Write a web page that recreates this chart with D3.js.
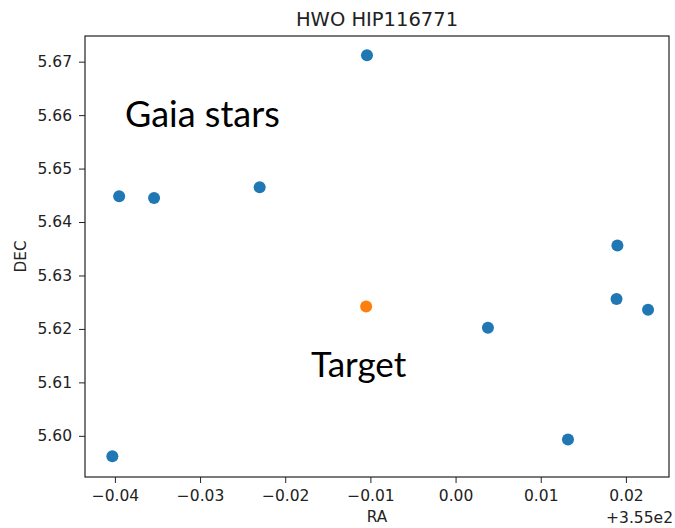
<!DOCTYPE html>
<html>
<head>
<meta charset="utf-8">
<script src="https://cdn.jsdelivr.net/npm/d3@7"></script>
<style>
  body { margin: 0; background: #fff; }
  text { font-family: "DejaVu Sans", sans-serif; fill: #222; }
</style>
</head>
<body>
<div id="chart"></div>
<script>
// RA offsets from 355 deg, DEC in deg
const gaiaRa  = [-0.0395, -0.0354, -0.0230, -0.0104, 0.0190, 0.0189, 0.0226, 0.0038, 0.0132, -0.0403];
const gaiaDec = [5.6448, 5.6445, 5.6465, 5.6712, 5.6356, 5.6256, 5.6236, 5.6202, 5.5993, 5.5962];
const targetRa  = [-0.0105];
const targetDec = [5.6242];

const xTicks = [-0.04, -0.03, -0.02, -0.01, 0.00, 0.01, 0.02];
const yTicks = [5.60, 5.61, 5.62, 5.63, 5.64, 5.65, 5.66, 5.67];

const width = 675, height = 528;
const margin = {top: 36, right: 6, bottom: 51, left: 85};

let svg = d3.select("#chart").append("svg")
    .attr("width", width)
    .attr("height", height);

let x = d3.scaleLinear()
    .domain([-0.04351, 0.02506])
    .range([margin.left, width - margin.right]);

let y = d3.scaleLinear()
    .domain([5.5923, 5.6748])
    .range([height - margin.bottom, margin.top]);

// axes
let xAxis = svg.append("g")
    .attr("transform", `translate(0,${height - margin.bottom})`)
    .call(d3.axisBottom(x).tickValues(xTicks).tickSize(6).tickPadding(7)
        .tickFormat(d => d3.format(".2f")(d).replace("-", "\u2212")));

let yAxis = svg.append("g")
    .attr("transform", `translate(${margin.left},0)`)
    .call(d3.axisLeft(y).tickValues(yTicks).tickSize(6).tickPadding(7)
        .tickFormat(d3.format(".2f")));

[xAxis, yAxis].forEach(a => {
    a.select(".domain").remove();
    a.selectAll("line").attr("stroke", "#222").attr("stroke-width", 1);
    a.selectAll("text").style("font-size", "15.5px").attr("fill", "#222");
});

// frame
svg.append("rect")
    .attr("x", margin.left)
    .attr("y", margin.top)
    .attr("width", width - margin.left - margin.right)
    .attr("height", height - margin.top - margin.bottom)
    .attr("fill", "none")
    .attr("stroke", "#222")
    .attr("stroke-width", 1.2);

// points
let gaia = d3.zip(gaiaRa, gaiaDec);
svg.append("g").selectAll("circle")
    .data(gaia)
    .enter().append("circle")
    .attr("cx", d => x(d[0]))
    .attr("cy", d => y(d[1]))
    .attr("r", 6)
    .attr("fill", "#1f77b4");

svg.append("g").selectAll("circle")
    .data(d3.zip(targetRa, targetDec))
    .enter().append("circle")
    .attr("cx", d => x(d[0]))
    .attr("cy", d => y(d[1]))
    .attr("r", 6)
    .attr("fill", "#ff7f0e");

// titles and labels
svg.append("text")
    .attr("x", (margin.left + width - margin.right) / 2)
    .attr("y", 25.5)
    .attr("text-anchor", "middle")
    .style("font-size", "19.5px")
    .text("HWO HIP116771");

svg.append("text")
    .attr("x", (margin.left + width - margin.right) / 2)
    .attr("y", 522)
    .attr("text-anchor", "middle")
    .style("font-size", "15.3px")
    .text("RA");

svg.append("text")
    .attr("transform", `translate(26,${(margin.top + height - margin.bottom) / 2}) rotate(-90)`)
    .attr("text-anchor", "middle")
    .style("font-size", "15.3px")
    .text("DEC");

svg.append("text")
    .attr("x", 673)
    .attr("y", 523)
    .attr("text-anchor", "end")
    .style("font-size", "15.5px")
    .text("+3.55e2");

// annotations
svg.append("text")
    .attr("x", 125)
    .attr("y", 127)
    .style("font-family", "Lato, sans-serif")
    .style("font-size", "36px")
    .style("fill", "#000")
    .text("Gaia stars");

svg.append("text")
    .attr("x", 311)
    .attr("y", 377)
    .style("font-family", "Lato, sans-serif")
    .style("font-size", "35px")
    .style("fill", "#000")
    .text("Target");
</script>
</body>
</html>
